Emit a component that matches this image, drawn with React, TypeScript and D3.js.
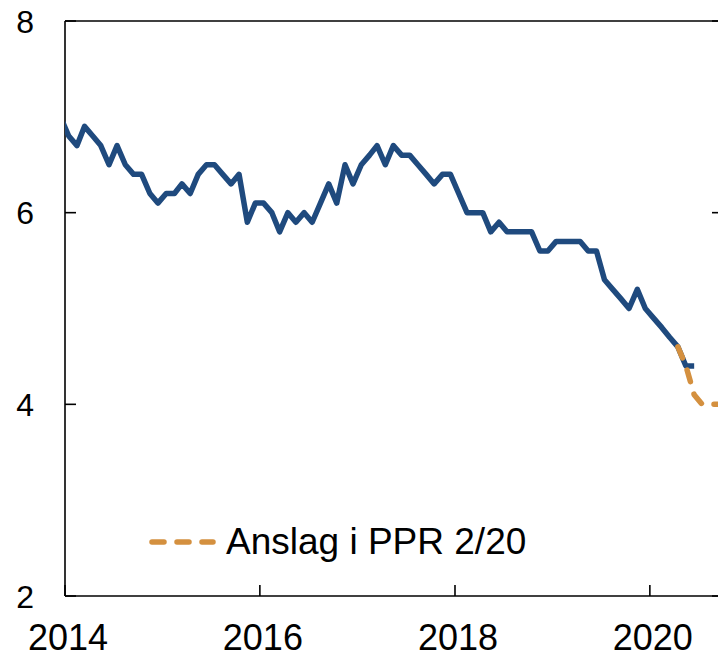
import React from "react";
import * as d3 from "d3";

const actualDates = [
  "2013-12",
  "2014-01","2014-02","2014-03","2014-04","2014-05","2014-06","2014-07","2014-08","2014-09","2014-10","2014-11","2014-12",
  "2015-01","2015-02","2015-03","2015-04","2015-05","2015-06","2015-07","2015-08","2015-09","2015-10","2015-11","2015-12",
  "2016-01","2016-02","2016-03","2016-04","2016-05","2016-06","2016-07","2016-08","2016-09","2016-10","2016-11","2016-12",
  "2017-01","2017-02","2017-03","2017-04","2017-05","2017-06","2017-07","2017-08","2017-09","2017-10","2017-11","2017-12",
  "2018-01","2018-02","2018-03","2018-04","2018-05","2018-06","2018-07","2018-08","2018-09","2018-10","2018-11","2018-12",
  "2019-01","2019-02","2019-03","2019-04","2019-05","2019-06","2019-07","2019-08","2019-09","2019-10","2019-11","2019-12",
  "2020-01","2020-02","2020-03","2020-04","2020-05","2020-06",
];
const actualValues = [
  7.0,
  6.8, 6.7, 6.9, 6.8, 6.7, 6.5, 6.7, 6.5, 6.4, 6.4, 6.2, 6.1,
  6.2, 6.2, 6.3, 6.2, 6.4, 6.5, 6.5, 6.4, 6.3, 6.4, 5.9, 6.1,
  6.1, 6.0, 5.8, 6.0, 5.9, 6.0, 5.9, 6.1, 6.3, 6.1, 6.5, 6.3,
  6.5, 6.6, 6.7, 6.5, 6.7, 6.6, 6.6, 6.5, 6.4, 6.3, 6.4, 6.4,
  6.2, 6.0, 6.0, 6.0, 5.8, 5.9, 5.8, 5.8, 5.8, 5.8, 5.6, 5.6,
  5.7, 5.7, 5.7, 5.7, 5.6, 5.6, 5.3, 5.2, 5.1, 5.0, 5.2, 5.0,
  4.9, 4.8, 4.7, 4.6, 4.4, 4.4,
];

const forecastDates = ["2020-04", "2020-05", "2020-06", "2020-07", "2020-08", "2020-09", "2020-10"];
const forecastValues = [4.6, 4.4, 4.1, 4.0, 4.0, 4.0, 4.0];

const yTicks = [2, 4, 6, 8];
const xTickYears = [2014, 2016, 2018, 2020];
const legendLabel = "Anslag i PPR 2/20";

const W = 718;
const H = 658;
const left = 65;
const top = 21;
const bottom = 596;
const right = 723;

const BLUE = "#1f4a7e";
const ORANGE = "#d4903f";
const FONT = "'Liberation Sans', Arial, sans-serif";

const parseMid = (s: string) => {
  const [y, m] = s.split("-").map(Number);
  return new Date(y, m - 1, 15);
};

export default function App() {
  const x = d3
    .scaleTime()
    .domain([new Date(2014, 0, 1), new Date(2020, 9, 1)])
    .range([left, right]);
  const y = d3.scaleLinear().domain([2, 8]).range([bottom, top]);

  const line = d3
    .line<[Date, number]>()
    .x((d) => x(d[0]))
    .y((d) => y(d[1]));

  const actual = actualDates.map((d, i) => [parseMid(d), actualValues[i]] as [Date, number]);
  const forecast = forecastDates.map((d, i) => [parseMid(d), forecastValues[i]] as [Date, number]);

  const tickLen = 11;

  return (
    <svg
      width={W}
      height={H}
      style={{ position: "absolute", left: 0, top: 0, background: "#fff" }}
      fontFamily={FONT}
    >
      <defs>
        <clipPath id="plotClip">
          <rect x={left} y={top - 10} width={right - left} height={bottom - top + 20} />
        </clipPath>
      </defs>

      {/* frame */}
      <g stroke="#000" strokeWidth={1.6} fill="none">
        <line x1={left} x2={left} y1={top} y2={bottom} />
        <line x1={left} x2={right} y1={top} y2={top} />
        <line x1={left} x2={right} y1={bottom} y2={bottom} />
        <line x1={right} x2={right} y1={top} y2={bottom} />
        {yTicks.map((t) => (
          <g key={"yt" + t}>
            <line x1={left} x2={left + tickLen} y1={y(t)} y2={y(t)} />
            <line x1={right - tickLen} x2={right} y1={y(t)} y2={y(t)} />
          </g>
        ))}
        {xTickYears.map((yr) => (
          <line
            key={"xt" + yr}
            x1={x(new Date(yr, 0, 1))}
            x2={x(new Date(yr, 0, 1))}
            y1={bottom}
            y2={bottom - tickLen}
          />
        ))}
      </g>

      {/* y labels */}
      {yTicks.map((t) => (
        <text
          key={"yl" + t}
          x={34}
          y={y(t)}
          dy="0.36em"
          textAnchor="end"
          fontSize={32}
          fill="#000"
        >
          {t}
        </text>
      ))}

      {/* x labels */}
      {xTickYears.map((yr) => (
        <text
          key={"xl" + yr}
          x={x(new Date(yr, 0, 1)) + 3}
          y={650}
          textAnchor="middle"
          fontSize={36}
          fill="#000"
        >
          {yr}
        </text>
      ))}

      <g clipPath="url(#plotClip)">
        <path
          d={line(actual) || ""}
          fill="none"
          stroke={BLUE}
          strokeWidth={5.5}
          strokeLinejoin="round"
          strokeLinecap="butt"
        />
        <path
          d={line(forecast) || ""}
          fill="none"
          stroke={ORANGE}
          strokeWidth={5.5}
          strokeDasharray="12 13"
          strokeLinejoin="round"
          strokeLinecap="round"
        />
      </g>

      {/* legend */}
      <line
        x1={152}
        x2={213}
        y1={542}
        y2={542}
        stroke={ORANGE}
        strokeWidth={5.5}
        strokeDasharray="12 13"
        strokeLinecap="round"
      />
      <text x={226} y={554} fontSize={37} fill="#000">
        {legendLabel}
      </text>
    </svg>
  );
}
